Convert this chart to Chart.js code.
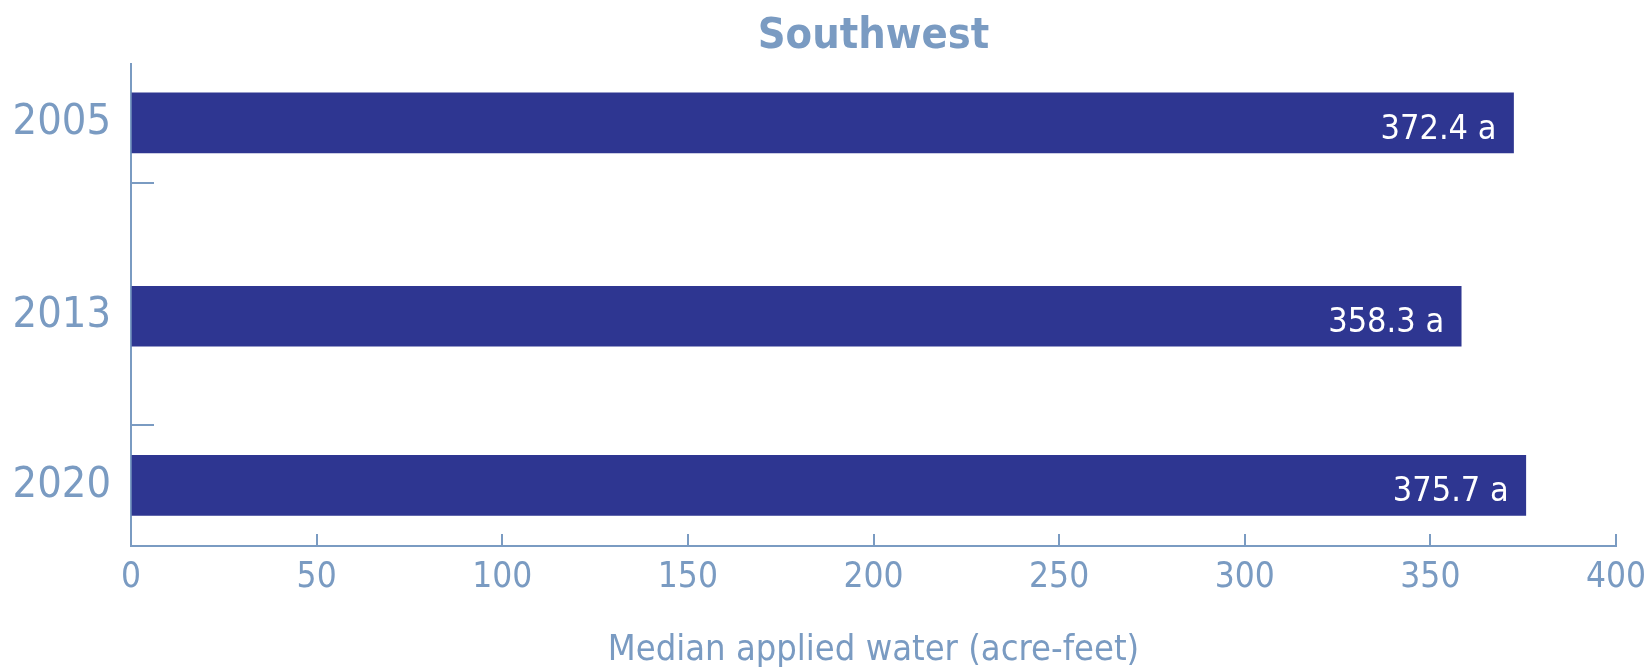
<!DOCTYPE html>
<html>
<head>
<meta charset="utf-8">
<title>Southwest</title>
<script src="https://cdn.jsdelivr.net/npm/chart.js@4.4.0/dist/chart.umd.min.js"></script>
<style>
  body { margin: 0; background: #fff; }
  canvas { display: block; }
</style>
</head>
<body>
<canvas id="chart" width="1648" height="669"></canvas>
<script>
// Median applied water, Southwest region
const years = [2005, 2013, 2020];
const medianWater = [372.4, 358.3, 375.7];
const sigLetters = ['a', 'a', 'a'];
const xTicks = [0, 50, 100, 150, 200, 250, 300, 350, 400];
const yearDividers = [2007.5, 2017.5];

const fontFamily = "'Liberation Sans Narrow', 'DejaVu Sans Condensed', sans-serif";
const lightBlue = '#7a9bc2';
const barBlue = '#2e3691';

Chart.defaults.font.family = fontFamily;
Chart.defaults.color = lightBlue;

// white value labels inside the bar ends
const barLabels = {
    id: 'barLabels',
    afterDatasetsDraw: function (chart) {
        const ctx = chart.ctx;
        const meta = chart.getDatasetMeta(0);
        ctx.save();
        ctx.fillStyle = '#ffffff';
        ctx.font = '34px ' + fontFamily;
        ctx.textAlign = 'right';
        ctx.textBaseline = 'alphabetic';
        meta.data.forEach(function (bar, i) {
            const text = medianWater[i].toFixed(1) + ' ' + sigLetters[i];
            ctx.fillText(text, bar.x - 17, bar.y + 16);
        });
        ctx.restore();
    }
};

new Chart(document.getElementById('chart'), {
    type: 'bar',
    data: {
        datasets: [{
            data: years.map(function (y, i) { return { x: medianWater[i], y: y }; }),
            backgroundColor: barBlue,
            borderWidth: 0,
            barThickness: 60
        }]
    },
    options: {
        indexAxis: 'y',
        responsive: false,
        animation: false,
        layout: { padding: { left: 0, right: 32, top: 0, bottom: 0 } },
        plugins: {
            legend: { display: false },
            tooltip: { enabled: false },
            title: {
                display: true,
                text: 'Southwest',
                fullSize: false,
                color: lightBlue,
                font: { size: 43, weight: 'bold', lineHeight: 1.2 },
                padding: { top: 11, bottom: 1.4 }
            }
        },
        scales: {
            x: {
                type: 'linear',
                min: 0,
                max: 400,
                afterBuildTicks: function (scale) {
                    scale.ticks = xTicks.map(function (v) { return { value: v }; });
                },
                afterFit: function (scale) {
                    scale.height = 123;
                    scale.paddingLeft = 0;
                    scale.paddingRight = 0;
                },
                border: { display: true, color: lightBlue, width: 2 },
                grid: {
                    drawOnChartArea: false,
                    color: lightBlue,
                    lineWidth: 2,
                    tickLength: -12
                },
                ticks: {
                    color: lightBlue,
                    font: { size: 35 },
                    padding: 23,
                    maxRotation: 0
                },
                title: {
                    display: true,
                    text: 'Median applied water (acre-feet)',
                    color: lightBlue,
                    font: { size: 36, lineHeight: 1 },
                    padding: { top: 0, bottom: 0 }
                }
            },
            y: {
                type: 'linear',
                reverse: true,
                offset: false,
                min: 2002.56,
                max: 2022.51,
                weight: 1,
                afterBuildTicks: function (scale) {
                    scale.ticks = years.map(function (v) { return { value: v }; });
                },
                afterFit: function (scale) {
                    scale.width = 131;
                    scale.paddingTop = 0;
                    scale.paddingBottom = 0;
                },
                border: { display: true, color: lightBlue, width: 2 },
                grid: { display: false, offset: false },
                ticks: {
                    color: lightBlue,
                    font: { size: 43 },
                    padding: 12,
                    callback: function (value) { return String(value); }
                }
            },
            y2: {
                type: 'linear',
                axis: 'y',
                position: 'left',
                reverse: true,
                offset: false,
                min: 2002.56,
                max: 2022.51,
                weight: 0,
                afterBuildTicks: function (scale) {
                    scale.ticks = yearDividers.map(function (v) { return { value: v }; });
                },
                afterFit: function (scale) {
                    scale.width = 0;
                    scale.paddingTop = 0;
                    scale.paddingBottom = 0;
                },
                border: { display: false },
                grid: {
                    offset: false,
                    drawOnChartArea: false,
                    color: lightBlue,
                    lineWidth: 2,
                    tickLength: -23
                },
                ticks: { display: false }
            }
        }
    },
    plugins: [barLabels]
});
</script>
</body>
</html>
